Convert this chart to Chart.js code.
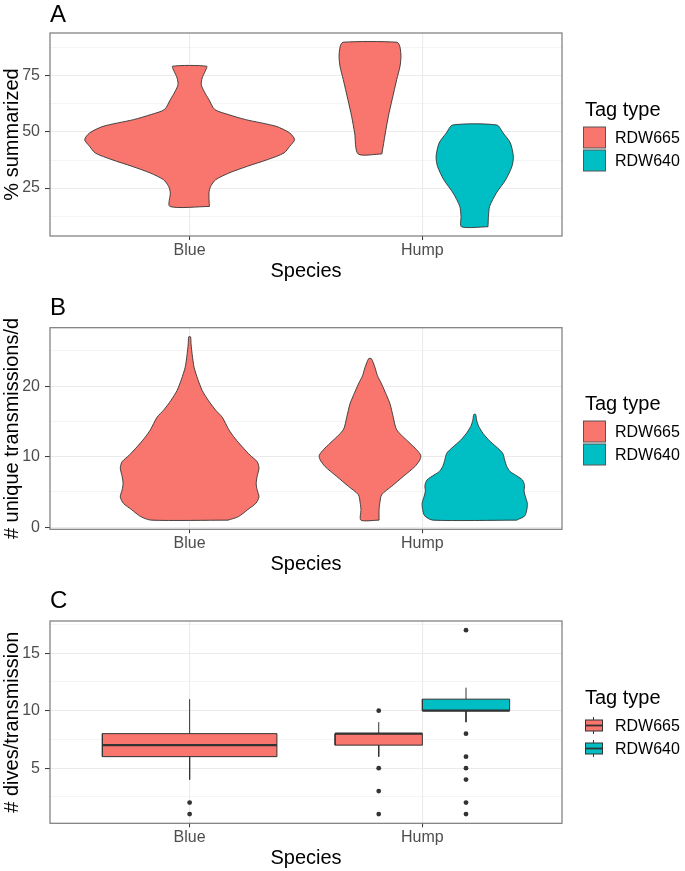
<!DOCTYPE html>
<html><head><meta charset="utf-8">
<script src="https://cdn.jsdelivr.net/npm/chart.js@4.4.1/dist/chart.umd.min.js"></script>
<style>
html,body{margin:0;padding:0;background:#fff;}
canvas{display:block;}
</style></head><body>
<canvas id="cA" width="685" height="290"></canvas>
<canvas id="cB" width="685" height="290"></canvas>
<canvas id="cC" width="685" height="291"></canvas>
<script>
// ---------------- data ----------------
const categories = ['Blue', 'Hump'];
const tagTypes = ['RDW665', 'RDW640'];
const tagColors = ['#F8766D', '#00BFC4'];
const xAxisTitle = 'Species';
const legendTitle = 'Tag type';
const panelLetters = ['A', 'B', 'C'];
const yTitles = ['% summarized', '# unique transmissions/d', '# dives/transmission'];

// y tick values (major labelled, minor grid only)
const aMajorTicks = [25, 50, 75];
const aMinorTicks = [12.5, 37.5, 62.5, 87.5];
const bMajorTicks = [0, 10, 20];
const bMinorTicks = [5, 15, 25];
const cMajorTicks = [5, 10, 15];
const cMinorTicks = [2.5, 7.5, 12.5, 17.5];

// Panel A violins: value and half-width (category units)
const aBlue665Y = [16.8, 22.8, 25.7, 28.7, 31.7, 34.7, 37.65, 40.6, 43.6, 46.6, 49.55, 52.5, 55.5, 57.8, 60.0, 64.4, 68.15, 71.1, 74.1, 77.1, 79.3];
const aBlue665W = [0.085, 0.083, 0.09, 0.112, 0.169, 0.248, 0.334, 0.405, 0.43, 0.451, 0.43, 0.372, 0.241, 0.165, 0.108, 0.083, 0.062, 0.05, 0.054, 0.067, 0.073];
const aHump665Y = [40.2, 49.55, 57.0, 64.4, 73.4, 79.3, 83.8, 88.2, 90.0];
const aHump665W = [0.051, 0.066, 0.079, 0.095, 0.115, 0.129, 0.133, 0.128, 0.116];
const aHump640Y = [7.74, 12.35, 16.8, 22.8, 28.7, 34.7, 39.1, 45.1, 49.55, 53.1];
const aHump640W = [0.057, 0.059, 0.064, 0.093, 0.133, 0.16, 0.166, 0.153, 0.122, 0.095];

// Panel B violins
const bBlue665Y = [1.0, 1.5, 2.5, 3.4, 4.3, 5.3, 6.2, 7.2, 8.4, 9.3, 10.2, 11.4, 12.6, 13.8, 15.6, 16.6, 18.0, 19.4, 21.0, 22.7, 24.5, 26.0, 27.0];
const bBlue665W = [0.165, 0.21, 0.25, 0.285, 0.298, 0.29, 0.286, 0.29, 0.298, 0.29, 0.26, 0.226, 0.195, 0.169, 0.14, 0.112, 0.08, 0.054, 0.035, 0.019, 0.011, 0.006, 0.004];
const bHump665Y = [1.0, 2.5, 3.4, 4.6, 5.8, 7.2, 8.6, 9.6, 10.2, 11.0, 11.9, 13.8, 15.6, 17.5, 18.8, 20.3, 21.5, 22.7, 23.9];
const bHump665W = [0.039, 0.039, 0.042, 0.05, 0.093, 0.143, 0.193, 0.215, 0.218, 0.2, 0.172, 0.115, 0.1, 0.086, 0.07, 0.05, 0.032, 0.021, 0.006];
const bHump640Y = [1.0, 1.6, 2.5, 3.4, 4.3, 5.1, 5.9, 6.7, 7.4, 7.9, 8.6, 9.5, 10.5, 11.4, 12.3, 13.3, 14.3, 15.2, 16.0];
const bHump640W = [0.18, 0.215, 0.224, 0.226, 0.218, 0.212, 0.214, 0.205, 0.175, 0.152, 0.138, 0.129, 0.12, 0.093, 0.062, 0.036, 0.017, 0.008, 0.004];

// Panel C box plots
const cGroup = ['Blue', 'Hump', 'Hump'];
const cTag = ['RDW665', 'RDW665', 'RDW640'];
const cLow = [4, 6, 9];
const cQ1 = [6, 7, 10];
const cMed = [7, 8, 10];
const cQ3 = [8, 8, 11];
const cHigh = [11, 9, 12];
const cOutBlue665 = [2, 1];
const cOutHump665 = [10, 5, 3, 1];
const cOutHump640 = [17, 8, 6, 5, 4, 2, 1];

// ---------------- helpers ----------------
const FONT = "'Liberation Sans', Arial, sans-serif";
Chart.defaults.font.family = FONT;
const EDGE = '#333333';

function tagColor(tag) { return tagColors[tagTypes.indexOf(tag)]; }
function expand(vals) {
  const mn = Math.min(...vals), mx = Math.max(...vals), r = mx - mn;
  return [mn - 0.05 * r, mx + 0.05 * r];
}
function violinPoints(center, ys, ws) {
  const pts = [];
  for (let i = 0; i < ys.length; i++) pts.push({x: center + ws[i], y: ys[i]});
  for (let i = ys.length - 1; i >= 0; i--) pts.push({x: center - ws[i], y: ys[i]});
  pts.push({x: center + ws[0], y: ys[0]});
  return pts;
}
function violinDataset(group, tag, ys, ws, dodged) {
  const c = categories.indexOf(group) + 1 + (dodged ? (tag === tagTypes[0] ? -0.225 : 0.225) : 0);
  return {data: violinPoints(c, ys, ws), showLine: true, fill: 'shape',
    backgroundColor: tagColor(tag), borderColor: EDGE, borderWidth: 0.9,
    pointRadius: 0, pointHoverRadius: 0, tension: 0.25};
}
function boxDatasets(i, outliers) {
  const dodged = cGroup.filter(g => g === cGroup[i]).length > 1;
  const center = categories.indexOf(cGroup[i]) + 1 + (dodged ? (cTag[i] === tagTypes[0] ? -0.1875 : 0.1875) : 0);
  const hw = dodged ? 0.1875 : 0.375;
  const line = {showLine: true, pointRadius: 0, pointHoverRadius: 0, borderColor: EDGE, borderWidth: 1, fill: false, tension: 0};
  return [
    {...line, order: 3, data: [{x: center, y: cQ1[i]}, {x: center, y: cLow[i]}]},
    {...line, order: 3, data: [{x: center, y: cQ3[i]}, {x: center, y: cHigh[i]}]},
    {...line, order: 2, fill: 'shape', backgroundColor: tagColor(cTag[i]),
      data: [{x: center - hw, y: cQ1[i]}, {x: center + hw, y: cQ1[i]}, {x: center + hw, y: cQ3[i]}, {x: center - hw, y: cQ3[i]}, {x: center - hw, y: cQ1[i]}]},
    {...line, order: 1, borderWidth: 2.2, data: [{x: center - hw, y: cMed[i]}, {x: center + hw, y: cMed[i]}]},
    {order: 0, showLine: false, pointRadius: 2.4, pointHoverRadius: 2.4, backgroundColor: EDGE, borderWidth: 0,
      data: outliers.map(v => ({x: center, y: v}))}
  ];
}

function decor(letter, letterBase, titleBase, boxKeys) {
  return {
    id: 'decor',
    afterDatasetsDraw(chart) {
      const {ctx, chartArea: a} = chart;
      ctx.save();
      ctx.strokeStyle = '#7A7A7A';
      ctx.lineWidth = 1.2;
      ctx.strokeRect(a.left, a.top, a.right - a.left, a.bottom - a.top);
      ctx.restore();
    },
    afterDraw(chart) {
      const {ctx, chartArea: a} = chart;
      ctx.save();
      ctx.fillStyle = '#000';
      ctx.textAlign = 'left';
      ctx.textBaseline = 'alphabetic';
      ctx.font = '24px ' + FONT;
      ctx.fillText(letter, a.left, letterBase);
      ctx.font = '20px ' + FONT;
      ctx.fillText(legendTitle, 585, titleBase);
      tagTypes.forEach((t, i) => {
        const cy = titleBase + 21.5 + i * 23;
        if (!boxKeys) {
          ctx.fillStyle = tagColors[i];
          ctx.fillRect(583.5, cy - 10.5, 22, 21);
          ctx.strokeStyle = '#555';
          ctx.lineWidth = 1;
          ctx.strokeRect(583.5, cy - 10.5, 22, 21);
        } else {
          ctx.strokeStyle = EDGE;
          ctx.lineWidth = 1;
          ctx.beginPath();
          ctx.moveTo(593.5, cy - 8.5); ctx.lineTo(593.5, cy + 8.5);
          ctx.stroke();
          ctx.fillStyle = tagColors[i];
          ctx.fillRect(585.5, cy - 5.5, 17, 11);
          ctx.strokeRect(585.5, cy - 5.5, 17, 11);
          ctx.lineWidth = 1.8;
          ctx.beginPath();
          ctx.moveTo(585.5, cy); ctx.lineTo(602.5, cy);
          ctx.stroke();
        }
        ctx.fillStyle = '#000';
        ctx.font = '16px ' + FONT;
        ctx.textBaseline = 'middle';
        ctx.fillText(t, 615, cy + 1);
        ctx.textBaseline = 'alphabetic';
        ctx.font = '20px ' + FONT;
      });
      ctx.restore();
    }
  };
}

function makePanel(id, idx, datasets, yVals, majors, minors, plotTop, plotBottom, letterBase, titleBase, boxKeys) {
  const canvas = document.getElementById(id);
  const H = canvas.height;
  const [ymin, ymax] = expand(yVals);
  const allTicks = [...minors, ...majors].sort((p, q) => p - q);
  const isMajor = v => majors.includes(v);
  return new Chart(canvas, {
    type: 'scatter',
    data: {datasets},
    options: {
      responsive: false, animation: false, devicePixelRatio: 1,
      layout: {padding: {left: 0, right: 123, top: plotTop, bottom: 0}},
      plugins: {legend: {display: false}, tooltip: {enabled: false}},
      scales: {
        x: {
          type: 'linear', min: 0.4, max: 2.6,
          afterBuildTicks: s => { s.ticks = categories.map((c, i) => ({value: i + 1})); },
          afterFit: s => { s.height = H - plotBottom; },
          grid: {color: '#EBEBEB', lineWidth: 1.1, tickColor: EDGE, tickLength: 4, tickWidth: 1},
          border: {display: false},
          ticks: {autoSkip: false, maxRotation: 0, minRotation: 0, padding: 1, color: '#4D4D4D',
            font: {size: 16}, callback: v => categories[v - 1]},
          title: {display: true, text: xAxisTitle, color: '#000', font: {size: 20},
            padding: {top: 0, bottom: H - plotBottom - 47}}
        },
        y: {
          type: 'linear', min: ymin, max: ymax,
          afterBuildTicks: s => { s.ticks = allTicks.map(v => ({value: v})); },
          afterFit: s => { s.width = 50; },
          grid: {color: '#EBEBEB', lineWidth: c => isMajor(c.tick.value) ? 1.1 : 0.55,
            tickColor: c => isMajor(c.tick.value) ? EDGE : 'rgba(0,0,0,0)', tickLength: 5, tickWidth: 1},
          border: {display: false},
          ticks: {autoSkip: false, padding: 5, color: '#4D4D4D', font: {size: 16},
            callback: v => isMajor(v) ? String(v) : ''},
          title: {display: true, text: yTitles[idx], color: '#000', font: {size: 20}, padding: {top: 0.5, bottom: 0}}
        }
      }
    },
    plugins: [decor(panelLetters[idx], letterBase, titleBase, boxKeys)]
  });
}

// Panel A
makePanel('cA', 0, [
  violinDataset('Blue', 'RDW665', aBlue665Y, aBlue665W, false),
  violinDataset('Hump', 'RDW665', aHump665Y, aHump665W, true),
  violinDataset('Hump', 'RDW640', aHump640Y, aHump640W, true)
], [...aBlue665Y, ...aHump665Y, ...aHump640Y], aMajorTicks, aMinorTicks, 33, 236, 21.7, 116, false);

// Panel B
makePanel('cB', 1, [
  violinDataset('Blue', 'RDW665', bBlue665Y, bBlue665W, false),
  violinDataset('Hump', 'RDW665', bHump665Y, bHump665W, true),
  violinDataset('Hump', 'RDW640', bHump640Y, bHump640W, true)
], [...bBlue665Y, ...bHump665Y, ...bHump640Y], bMajorTicks, bMinorTicks, 37.7, 239.3, 25, 120, false);

// Panel C
const cOutliers = [cOutBlue665, cOutHump665, cOutHump640];
const cDatasets = [];
cGroup.forEach((g, i) => cDatasets.push(...boxDatasets(i, cOutliers[i])));
const cAll = [...cLow, ...cHigh, ...cOutBlue665, ...cOutHump665, ...cOutHump640];
makePanel('cC', 2, cDatasets, cAll, cMajorTicks, cMinorTicks, 41, 243.3, 28.3, 124, true);
</script>
</body></html>
